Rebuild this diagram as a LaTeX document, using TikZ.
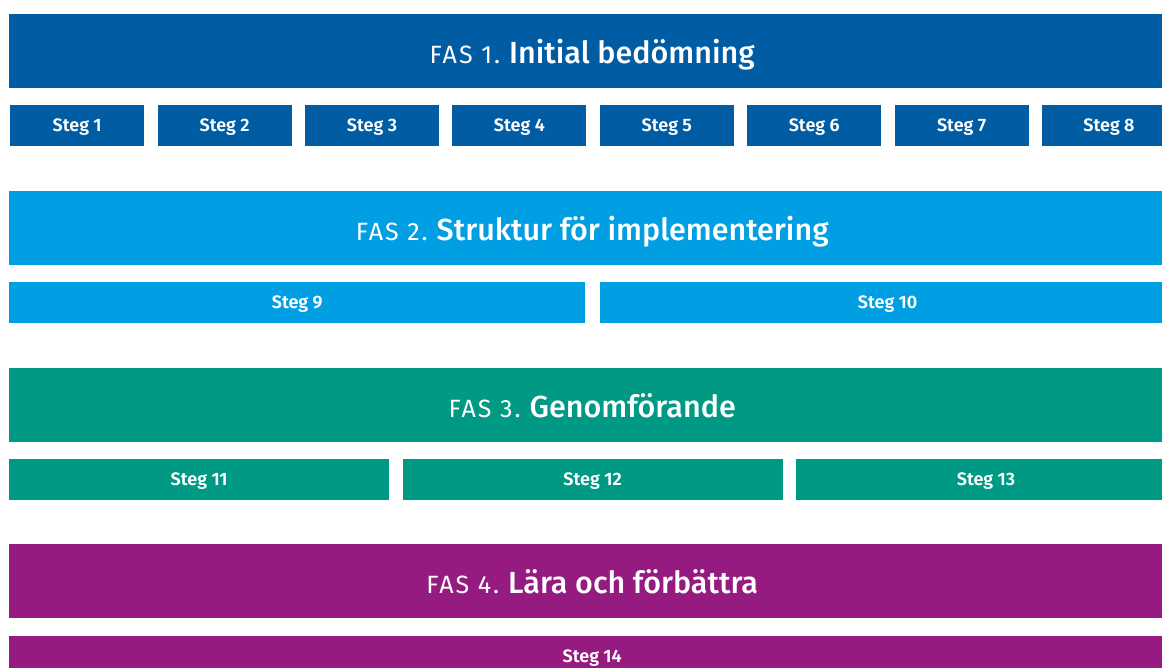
\documentclass[tikz,border=0pt]{standalone}
\usepackage{fontspec}
\setmainfont{Fira Sans}
\newfontfamily\faslight{Fira Sans}[LetterSpace=8]
\newfontfamily\fastitle{Fira Sans Medium}
\newfontfamily\stegfont{Fira Sans SemiBold}
\usetikzlibrary{positioning}
\definecolor{fasone}{RGB}{0,92,163}
\definecolor{fastwo}{RGB}{0,159,227}
\definecolor{fasthree}{RGB}{0,154,132}
\definecolor{fasfour}{RGB}{149,27,129}
\tikzset{%
	phase/.style={rectangle, anchor=north west, inner sep=0pt, text=white,%
		minimum width=1166pt, minimum height=74pt, fill=#1, text depth=0pt,%
		font=\fontsize{30.5}{33}\fastitle},
	stepbox/.style={rectangle, inner sep=0pt, text=white, minimum height=41pt,%
		fill=#1, text depth=0pt, font=\fontsize{18}{20}\stegfont},
	gap/.style={node distance=13pt}
}
\newcommand{\fas}[1]{{\fontsize{25}{27}\faslight FAS #1.}\hspace{9pt}}

\begin{document}
\begin{tikzpicture}[x=1pt, y=1pt]
	\useasboundingbox (0,0) rectangle (1162,-667);
	\clip (0,0) rectangle (1162,-667);
	\fill[white] (0,0) rectangle (1162,-667);

	% fas 1
	\node[phase=fasone] (f1) at (9,-14) {\fas{1}Initial bedömning};
	\node[stepbox=fasone, minimum width=134pt, anchor=north west] (s1) at ([xshift=1pt, yshift=-16.5pt]f1.south west) {Steg 1};
	\node[stepbox=fasone, minimum width=134pt, gap, right=of s1] (s2) {Steg 2};
	\node[stepbox=fasone, minimum width=134pt, gap, right=of s2] (s3) {Steg 3};
	\node[stepbox=fasone, minimum width=134pt, gap, right=of s3] (s4) {Steg 4};
	\node[stepbox=fasone, minimum width=134pt, gap, right=of s4] (s5) {Steg 5};
	\node[stepbox=fasone, minimum width=134pt, gap, right=of s5] (s6) {Steg 6};
	\node[stepbox=fasone, minimum width=134pt, gap, right=of s6] (s7) {Steg 7};
	\node[stepbox=fasone, minimum width=134pt, gap, right=of s7] (s8) {Steg 8};

	% fas 2
	\node[phase=fastwo] (f2) at (9,-191) {\fas{2}Struktur för implementering};
	\node[stepbox=fastwo, minimum width=576pt, anchor=north west] (s9) at ([yshift=-16pt]f2.south west) {Steg 9};
	\node[stepbox=fastwo, minimum width=576pt, node distance=14pt, right=of s9] (s10) {Steg 10};

	% fas 3
	\node[phase=fasthree] (f3) at (9,-368) {\fas{3}Genomförande};
	\node[stepbox=fasthree, minimum width=380pt, anchor=north west] (s11) at ([yshift=-16pt]f3.south west) {Steg 11};
	\node[stepbox=fasthree, minimum width=380pt, gap, right=of s11] (s12) {Steg 12};
	\node[stepbox=fasthree, minimum width=380pt, gap, right=of s12] (s13) {Steg 13};

	% fas 4
	\node[phase=fasfour] (f4) at (9,-544) {\fas{4}Lära och förbättra};
	\node[stepbox=fasfour, minimum width=1166pt, anchor=north west] (s14) at ([yshift=-17pt]f4.south west) {Steg 14};
\end{tikzpicture}
\end{document}
